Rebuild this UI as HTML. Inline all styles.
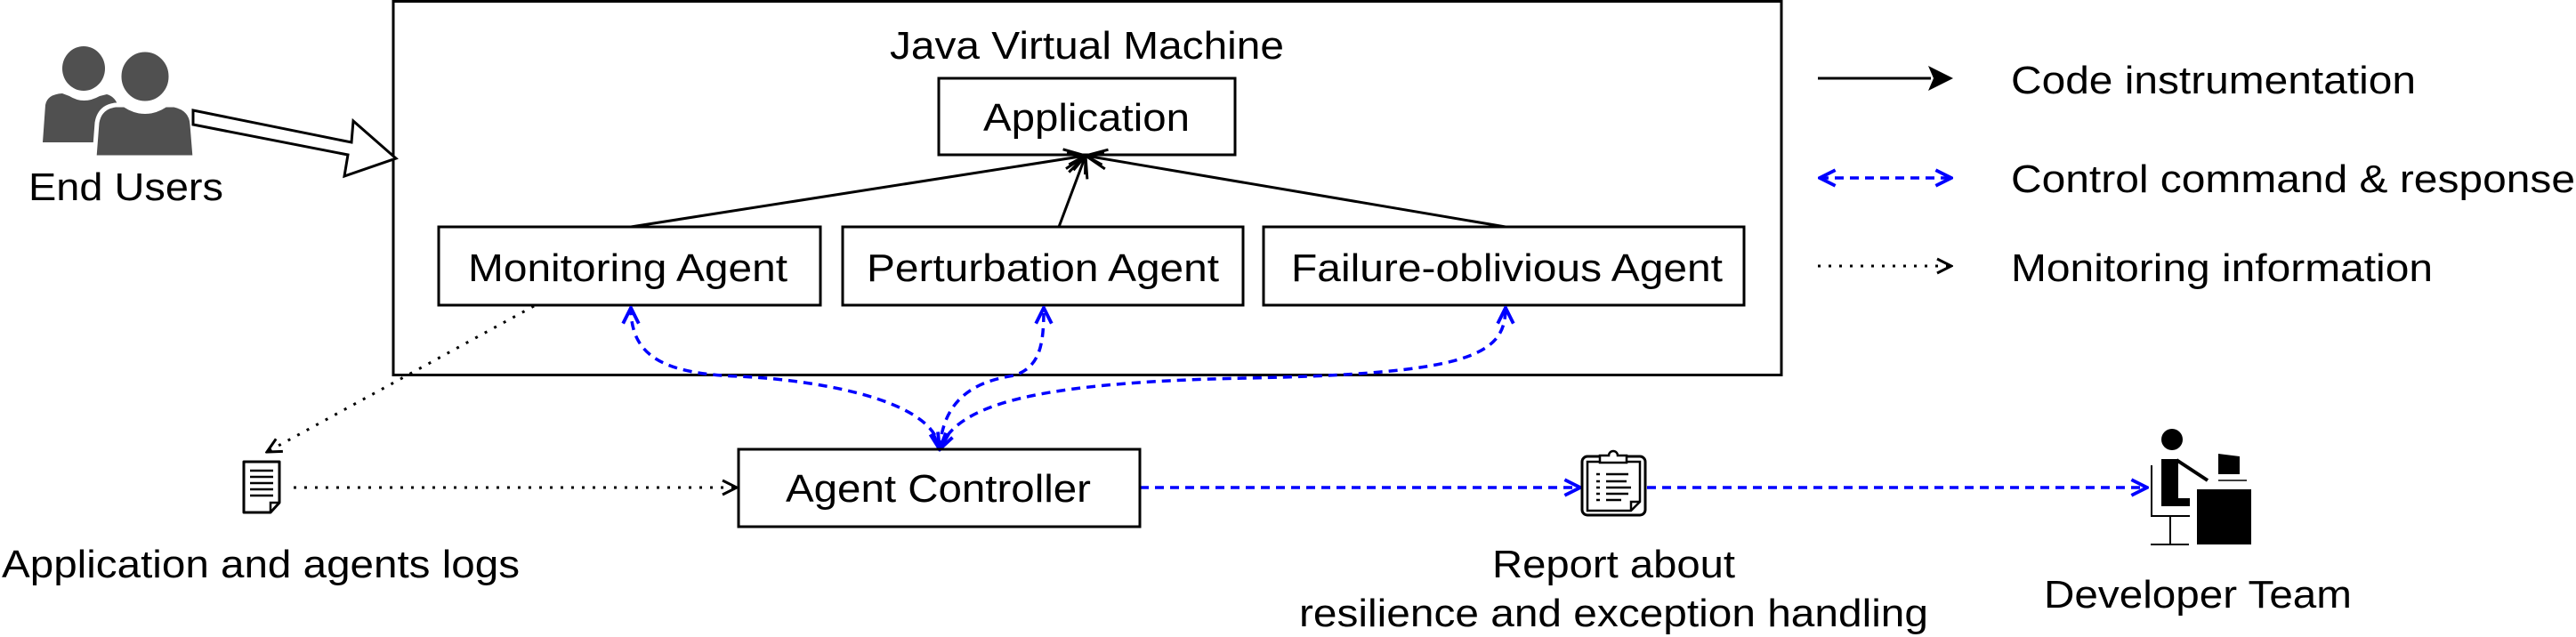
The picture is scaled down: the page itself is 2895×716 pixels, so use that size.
<!DOCTYPE html>
<html><head><meta charset="utf-8"><style>
html,body{margin:0;padding:0;background:#fff;}
svg{display:block;}
text{font-family:"Liberation Sans",Arial,sans-serif;font-size:44px;fill:#000;}
</style></head><body>
<svg width="2895" height="716" viewBox="0 0 2895 716" xmlns="http://www.w3.org/2000/svg">
<defs>
<marker id="openK" viewBox="0 0 20 20" refX="18" refY="10" markerWidth="20" markerHeight="20" markerUnits="userSpaceOnUse" orient="auto-start-reverse">
<path d="M2,2 L18,10 L2,18" fill="none" stroke="#000" stroke-width="3"/></marker>
<marker id="openB" viewBox="0 0 20 20" refX="18" refY="10" markerWidth="22" markerHeight="22" markerUnits="userSpaceOnUse" orient="auto-start-reverse">
<path d="M2,2 L18,10 L2,18" fill="none" stroke="#00f" stroke-width="3.5"/></marker>
<marker id="appK" viewBox="0 0 30 30" refX="28" refY="15" markerWidth="30" markerHeight="30" markerUnits="userSpaceOnUse" orient="auto">
<path d="M4,4 L28,15 L4,26 M8,8 L28,15 L8,22" fill="none" stroke="#000" stroke-width="3"/></marker>
</defs>

<!-- JVM box -->
<rect x="442" y="1.5" width="1560" height="420" fill="none" stroke="#000" stroke-width="3"/>
<text x="1000" y="66" textLength="443" lengthAdjust="spacingAndGlyphs">Java Virtual Machine</text>

<rect x="1055" y="88" width="333" height="86" fill="none" stroke="#000" stroke-width="3"/>
<text x="1105" y="147" textLength="232" lengthAdjust="spacingAndGlyphs">Application</text>

<rect x="493" y="255" width="429" height="88" fill="none" stroke="#000" stroke-width="3"/>
<text x="526" y="316" textLength="359" lengthAdjust="spacingAndGlyphs">Monitoring Agent</text>
<rect x="947" y="255" width="450" height="88" fill="none" stroke="#000" stroke-width="3"/>
<text x="974" y="316" textLength="396" lengthAdjust="spacingAndGlyphs">Perturbation Agent</text>
<rect x="1420" y="255" width="540" height="88" fill="none" stroke="#000" stroke-width="3"/>
<text x="1451" y="316" textLength="485" lengthAdjust="spacingAndGlyphs">Failure-oblivious Agent</text>

<!-- code instrumentation arrows -->
<line x1="709" y1="255" x2="1220" y2="175" stroke="#000" stroke-width="3" marker-end="url(#appK)"/>
<line x1="1190" y1="255" x2="1220" y2="175" stroke="#000" stroke-width="3" marker-end="url(#appK)"/>
<line x1="1692" y1="255" x2="1220" y2="175" stroke="#000" stroke-width="3" marker-end="url(#appK)"/>

<!-- control curves -->
<g fill="none" stroke="#00f" stroke-width="3.5" stroke-dasharray="10,7">
<path d="M1056,505 C1050,445 900,426 830,423 C745,420 709,400 709,346" marker-start="url(#openB)" marker-end="url(#openB)"/>
<path d="M1056,505 C1060,445 1100,428 1140,422 C1170,412 1173,385 1173,346" marker-start="url(#openB)" marker-end="url(#openB)"/>
<path d="M1056,505 C1075,455 1160,430 1400,425 C1650,420 1692,400 1692,346" marker-start="url(#openB)" marker-end="url(#openB)"/>
<line x1="1281" y1="548" x2="1776" y2="548" marker-end="url(#openB)"/>
<line x1="1851" y1="548" x2="2413" y2="548" marker-end="url(#openB)"/>
</g>

<!-- agent controller -->
<rect x="830" y="505" width="451" height="87" fill="none" stroke="#000" stroke-width="3"/>
<text x="883" y="564" textLength="343" lengthAdjust="spacingAndGlyphs">Agent Controller</text>

<!-- monitoring dotted -->
<g fill="none" stroke="#000" stroke-width="3" stroke-dasharray="3,9">
<line x1="600" y1="344" x2="300" y2="508" marker-end="url(#openK)"/>
<line x1="330" y1="548" x2="828" y2="548" marker-end="url(#openK)"/>
</g>

<!-- doc icon -->
<path d="M274,519 h40 v46 l-10,11 h-30 z" fill="#fff" stroke="#000" stroke-width="3" stroke-linejoin="round"/>
<path d="M314,565 h-10 v11" fill="none" stroke="#000" stroke-width="2.5"/>
<g stroke="#000" stroke-width="2.5"><line x1="281" y1="529" x2="307" y2="529"/><line x1="281" y1="536" x2="307" y2="536"/><line x1="281" y1="543" x2="307" y2="543"/><line x1="281" y1="550" x2="307" y2="550"/><line x1="281" y1="557" x2="307" y2="557"/></g>
<text x="2" y="649" textLength="582" lengthAdjust="spacingAndGlyphs">Application and agents logs</text>

<!-- users icon -->
<g fill="#505050">
<ellipse cx="94" cy="77" rx="24" ry="25"/>
<path d="M48,160 L51,118 Q53,106 70,105 L78,108 Q94,118 112,108 L120,106 Q134,110 134,130 L134,160 Z"/>
</g>
<g fill="#505050" stroke="#fff" stroke-width="5">
<ellipse cx="163" cy="86" rx="29" ry="30"/>
<path d="M106,177 L109,138 Q112,120 130,118 L140,118 Q163,133 186,118 L196,118 Q215,122 216,140 L219,177 Z"/>
</g>
<text x="32" y="225" textLength="219" lengthAdjust="spacingAndGlyphs">End Users</text>

<!-- hollow arrow -->
<polygon points="217,124 395,160 397,136 445,178 387,198 391,174 217,140" fill="#fff" stroke="#000" stroke-width="3" stroke-linejoin="miter"/>

<!-- report icon -->
<rect x="1778" y="513" width="71" height="66" rx="6" fill="#fff" stroke="#000" stroke-width="3"/>
<path d="M1784,519 h59 v45 l-10,10 h-49 z" fill="none" stroke="#000" stroke-width="2.5"/>
<path d="M1833,574 v-10 h10" fill="none" stroke="#000" stroke-width="2.5"/>
<path d="M1798,520 v-8 h10 a5,5 0 0 1 10,0 h10 v8 z" fill="#fff" stroke="#000" stroke-width="2.5"/>
<g stroke="#000" stroke-width="2.5">
<line x1="1794" y1="533" x2="1798" y2="533"/><line x1="1805" y1="533" x2="1830" y2="533"/>
<line x1="1794" y1="541" x2="1798" y2="541"/><line x1="1805" y1="541" x2="1828" y2="541"/>
<line x1="1794" y1="548" x2="1798" y2="548"/><line x1="1805" y1="548" x2="1833" y2="548"/>
<line x1="1794" y1="555" x2="1798" y2="555"/><line x1="1805" y1="555" x2="1830" y2="555"/>
<line x1="1794" y1="562" x2="1798" y2="562"/><line x1="1805" y1="562" x2="1822" y2="562"/>
</g>
<text x="1677" y="649" textLength="273" lengthAdjust="spacingAndGlyphs">Report about</text>
<text x="1460" y="704" textLength="707" lengthAdjust="spacingAndGlyphs">resilience and exception handling</text>

<!-- developer icon -->
<circle cx="2441" cy="494" r="12"/>
<path d="M2429,516 h19 v44 h13 v9 h-32 z" fill="#000"/>
<line x1="2446" y1="517" x2="2481" y2="540" stroke="#000" stroke-width="4"/>
<path d="M2418,523 v57 h43" fill="none" stroke="#000" stroke-width="2"/>
<line x1="2439" y1="580" x2="2439" y2="612" stroke="#000" stroke-width="2"/>
<line x1="2417" y1="612" x2="2460" y2="612" stroke="#000" stroke-width="2"/>
<rect x="2469" y="550" width="61" height="62" fill="#000"/>
<path d="M2493,510 l24,3 v20 h-24 z" fill="#000"/>
<line x1="2493" y1="540" x2="2525" y2="540" stroke="#000" stroke-width="1.5"/>
<text x="2297" y="683" textLength="346" lengthAdjust="spacingAndGlyphs">Developer Team</text>

<!-- legend -->
<line x1="2043" y1="88" x2="2170" y2="88" stroke="#000" stroke-width="3"/>
<path d="M2167,74 L2195,88 L2167,102 L2173,88 Z" fill="#000"/>
<text x="2260" y="105" textLength="455" lengthAdjust="spacingAndGlyphs">Code instrumentation</text>
<line x1="2045" y1="200" x2="2193" y2="200" stroke="#00f" stroke-width="3.5" stroke-dasharray="10,7" marker-start="url(#openB)" marker-end="url(#openB)"/>
<text x="2260" y="216" textLength="634" lengthAdjust="spacingAndGlyphs">Control command &amp; response</text>
<line x1="2043" y1="299" x2="2193" y2="299" stroke="#000" stroke-width="3" stroke-dasharray="3,9" marker-end="url(#openK)"/>
<text x="2260" y="316" textLength="474" lengthAdjust="spacingAndGlyphs">Monitoring information</text>
</svg>
</body></html>
